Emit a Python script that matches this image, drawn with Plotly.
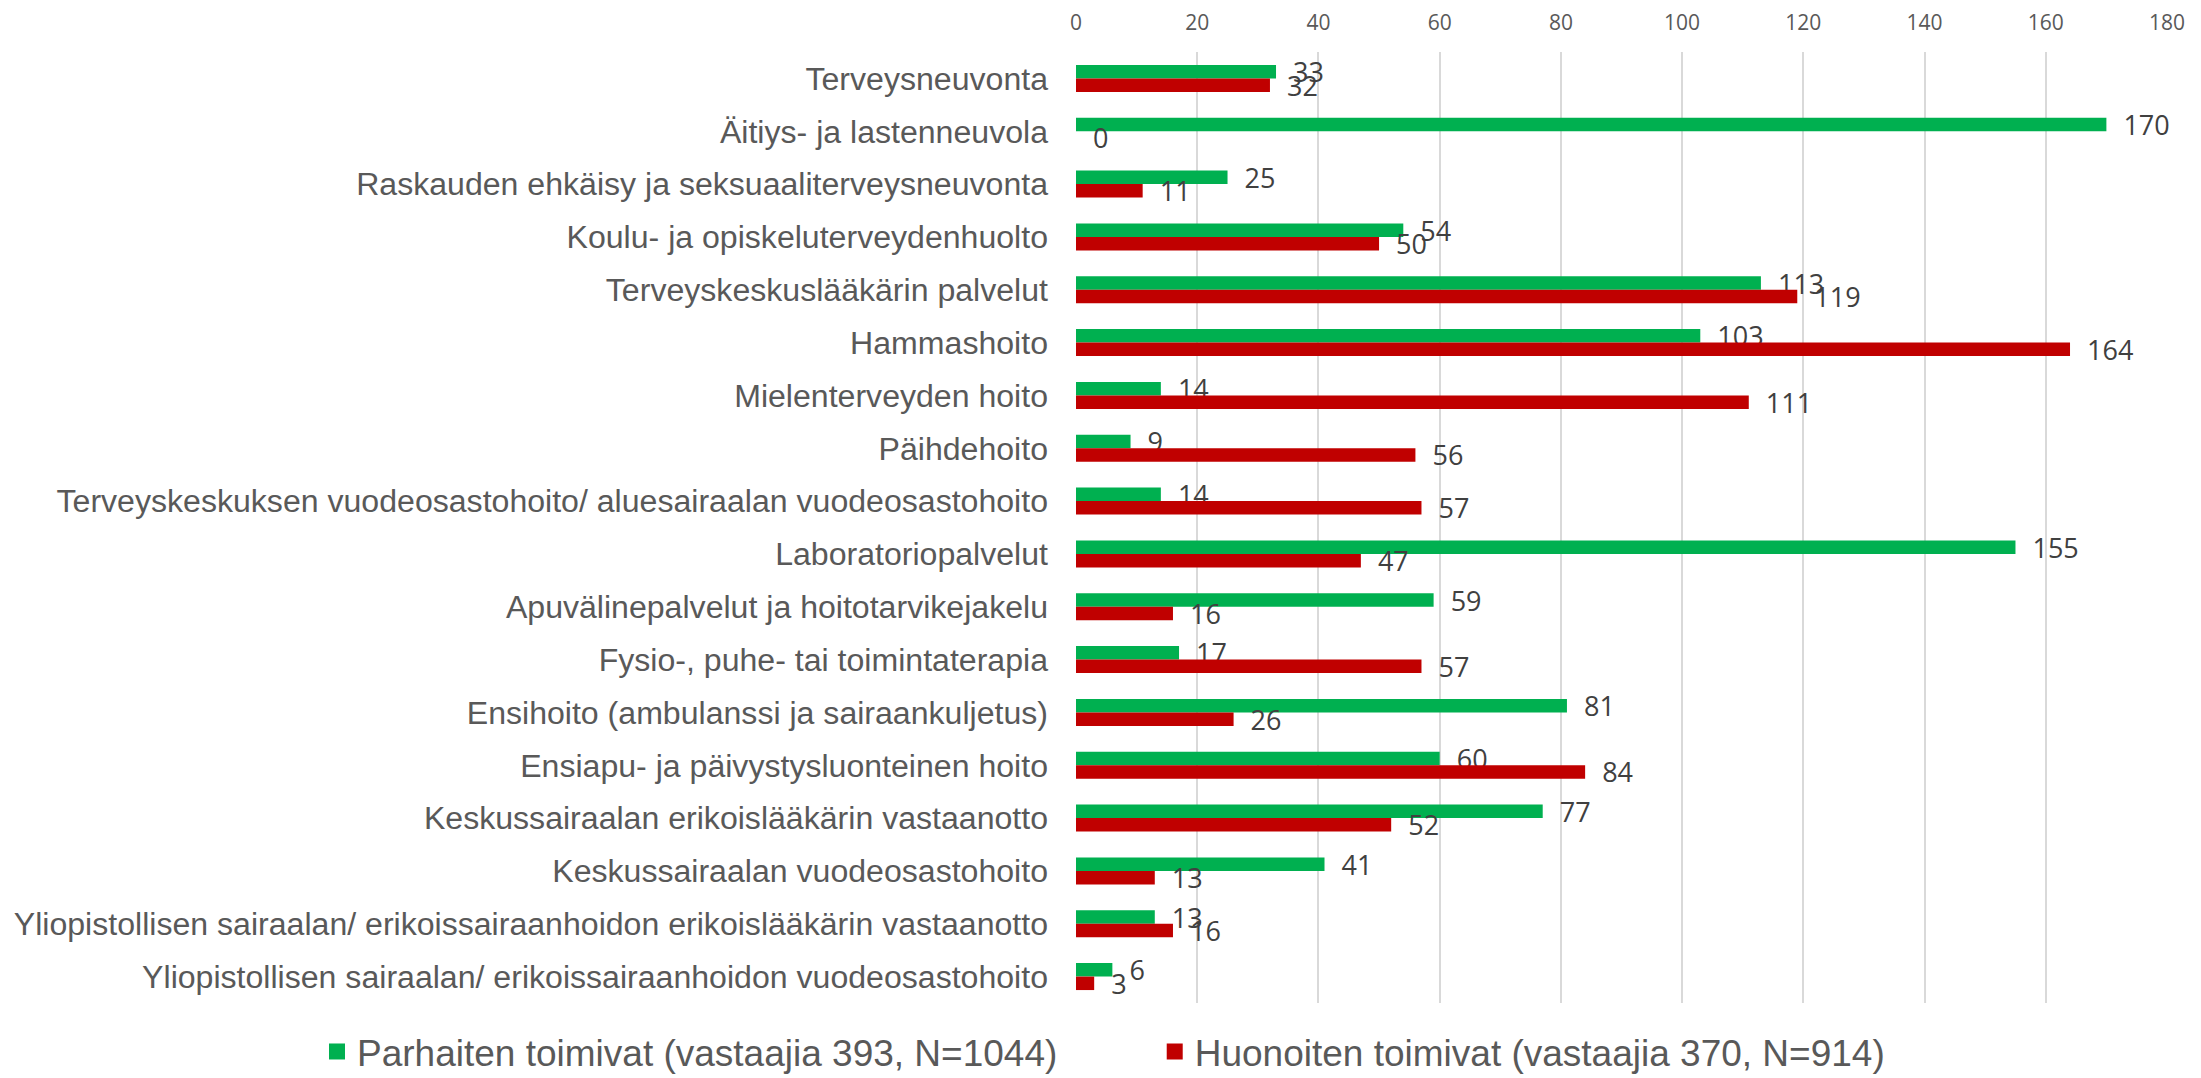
import plotly.graph_objects as go

categories = [
    "Terveysneuvonta",
    "Äitiys- ja lastenneuvola",
    "Raskauden ehkäisy ja seksuaaliterveysneuvonta",
    "Koulu- ja opiskeluterveydenhuolto",
    "Terveyskeskuslääkärin palvelut",
    "Hammashoito",
    "Mielenterveyden hoito",
    "Päihdehoito",
    "Terveyskeskuksen vuodeosastohoito/ aluesairaalan vuodeosastohoito",
    "Laboratoriopalvelut",
    "Apuvälinepalvelut ja hoitotarvikejakelu",
    "Fysio-, puhe- tai toimintaterapia",
    "Ensihoito (ambulanssi ja sairaankuljetus)",
    "Ensiapu- ja päivystysluonteinen hoito",
    "Keskussairaalan erikoislääkärin vastaanotto",
    "Keskussairaalan vuodeosastohoito",
    "Yliopistollisen sairaalan/ erikoissairaanhoidon erikoislääkärin vastaanotto",
    "Yliopistollisen sairaalan/ erikoissairaanhoidon vuodeosastohoito",
]
best = [33, 170, 25, 54, 113, 103, 14, 9, 14, 155, 59, 17, 81, 60, 77, 41, 13, 6]
worst = [32, 0, 11, 50, 119, 164, 111, 56, 57, 47, 16, 57, 26, 84, 52, 13, 16, 3]
best_name = "Parhaiten toimivat (vastaajia 393, N=1044)"
worst_name = "Huonoiten toimivat (vastaajia 370, N=914)"
x_ticks = [0, 20, 40, 60, 80, 100, 120, 140, 160, 180]

GREEN = "#00B050"
RED = "#C00000"
label_font = dict(family="Open Sans", size=27, color="#404040")

fig = go.Figure()
for name, vals, col, leg in [(best_name, best, GREEN, "legend"), (worst_name, worst, RED, "legend2")]:
    fig.add_trace(go.Bar(
        y=categories, x=vals, name=name, orientation="h", showlegend=False,
        marker=dict(color=col, line=dict(width=0)),
        text=vals, texttemplate="\u00a0\u00a0%{x}", textposition="outside",
        textfont=label_font, cliponaxis=False, constraintext="none",
    ))
    # legend-only entry (no data points) with a larger square swatch
    fig.add_trace(go.Scatter(
        x=[None], y=[None], name=name, mode="markers", legend=leg, showlegend=True,
        marker=dict(symbol="square", size=16, color=col),
        hoverinfo="skip",
    ))

legend_font = dict(family="Liberation Sans, Arial", size=37, color="#595959")
fig.update_layout(
    width=2201, height=1078, showlegend=True,
    barmode="group", bargap=0.49, bargroupgap=0,
    plot_bgcolor="white", paper_bgcolor="white",
    margin=dict(l=1068, r=42, t=44, b=83, autoexpand=False),
    font=dict(family="Liberation Sans, Arial", color="#595959"),
    xaxis=dict(side="top", range=[0, 180], tickvals=x_ticks,
               showgrid=True, gridcolor="#d9d9d9", gridwidth=1.5,
               zeroline=False, showline=False, ticks="", automargin=False,
               tickfont=dict(family="Open Sans", size=21, color="#595959"),
               ticklabelstandoff=17),
    yaxis=dict(categoryorder="array", categoryarray=categories,
               autorange="reversed", showgrid=False, showline=False,
               ticks="", automargin=False,
               tickfont=dict(family="Liberation Sans, Arial", size=32.1, color="#595959"),
               ticklabelstandoff=27),
    legend=dict(orientation="h", xref="container", yref="container",
                x=0.1404, xanchor="left", y=0.0316, yanchor="middle",
                itemsizing="trace", font=legend_font),
    legend2=dict(orientation="h", xref="container", yref="container",
                 x=0.521, xanchor="left", y=0.0316, yanchor="middle",
                 itemsizing="trace", font=legend_font),
)

fig.write_html("out.html")
